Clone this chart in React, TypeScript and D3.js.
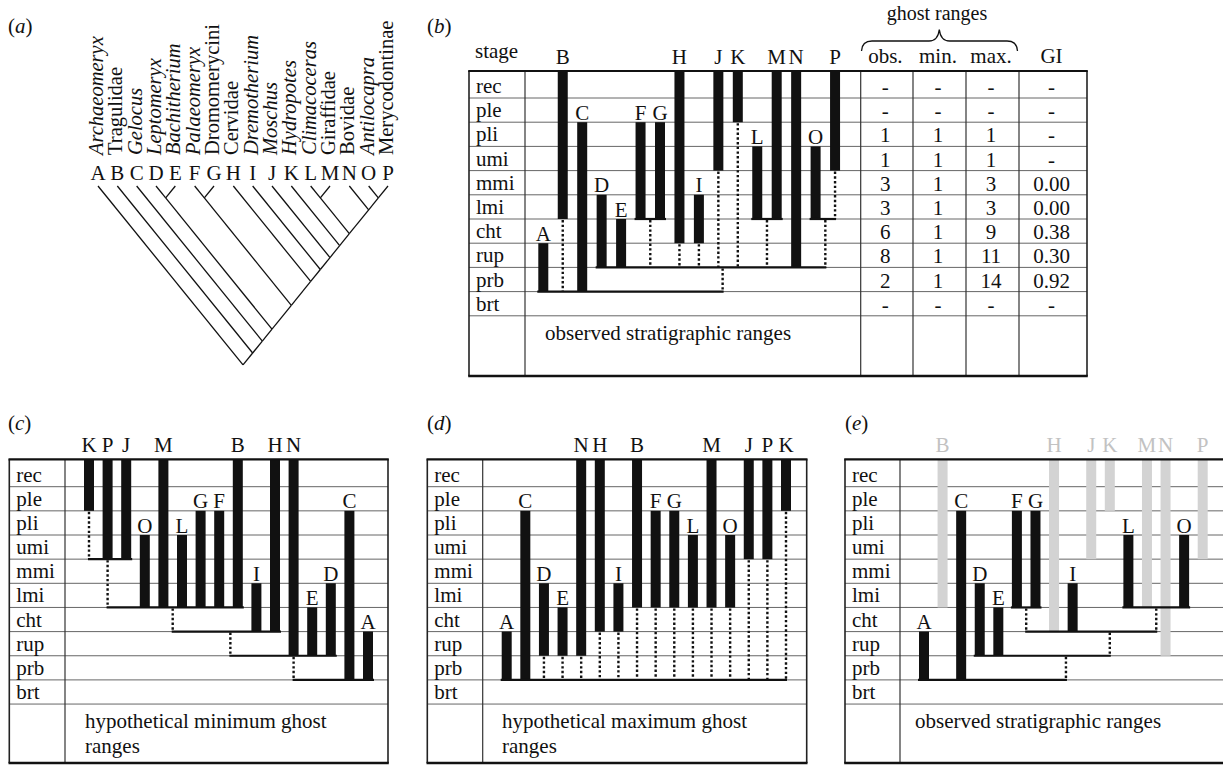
import React from "react";
import * as d3 from "d3";

// ---------- DATA ----------
const stages = ["rec", "ple", "pli", "umi", "mmi", "lmi", "cht", "rup", "prb", "brt"];
const taxa = ["A", "B", "C", "D", "E", "F", "G", "H", "I", "J", "K", "L", "M", "N", "O", "P"];
const taxonNames = [
  "Archaeomeryx", "Tragulidae", "Gelocus", "Leptomeryx", "Bachitherium", "Palaeomeryx",
  "Dromomerycini", "Cervidae", "Dremotherium", "Moschus", "Hydropotes", "Climacoceras",
  "Giraffidae", "Bovidae", "Antilocapra", "Merycodontinae",
];
const taxonItalic = [true, false, true, true, true, true, false, false, true, true, true, true, false, false, true, false];
// cladogram topology (A,(B,(C,((D,E),((F,G),(H,(I,(J,(K,((L,M),(N,(O,P))))))))))))
const cladogram: any = ["A", ["B", ["C", [["D", "E"], [["F", "G"], ["H", ["I", ["J", ["K", [["L", "M"], ["N", ["O", "P"]]]]]]]]]]]];

// observed stratigraphic ranges (first and last stage)
const rangeTop = ["rup", "rec", "pli", "lmi", "cht", "pli", "pli", "rec", "lmi", "rec", "rec", "umi", "rec", "rec", "umi", "rec"];
const rangeBase = ["prb", "lmi", "prb", "rup", "rup", "lmi", "lmi", "cht", "cht", "umi", "ple", "lmi", "lmi", "rup", "lmi", "umi"];

// column orders
const orderB = taxa;
const orderC = ["K", "P", "J", "O", "M", "L", "G", "F", "B", "I", "H", "N", "E", "D", "C", "A"];
const orderD = ["A", "C", "D", "E", "N", "H", "I", "B", "F", "G", "L", "M", "O", "J", "P", "K"];
const orderE = taxa;
const greyE = ["B", "H", "J", "K", "M", "N", "P"];

// ghost range connectors: horizontals at bottom of stage; dotted ghost ranges
const hB = [
  { at: "prb", from: 0, fe: -1, to: 9.22, te: 0 },
  { at: "rup", from: 3, fe: -1, to: 14.5, te: 0 },
  { at: "lmi", from: 5, fe: -1, to: 6, te: 1 },
  { at: "lmi", from: 11, fe: -1, to: 12, te: 1 },
  { at: "lmi", from: 14, fe: -1, to: 15, te: 0 },
];
const dB = [
  { col: 1, from: "lmi", to: "prb" },
  { col: 5.5, from: "lmi", to: "rup" },
  { col: 7, from: "cht", to: "rup" },
  { col: 8, from: "cht", to: "rup" },
  { col: 9, from: "umi", to: "rup" },
  { col: 10, from: "ple", to: "rup" },
  { col: 11.5, from: "lmi", to: "rup" },
  { col: 14.5, from: "lmi", to: "rup" },
  { col: 15, from: "umi", to: "lmi" },
  { col: 9.22, from: "rup", to: "prb" },
];
const hC = [
  { at: "umi", from: 0, fe: 0, to: 2, te: 1 },
  { at: "lmi", from: 1, fe: 0, to: 8, te: 1 },
  { at: "cht", from: 4.5, fe: 0, to: 10, te: 1 },
  { at: "rup", from: 7.6, fe: 0, to: 13, te: 1 },
  { at: "prb", from: 11, fe: 0, to: 15, te: 1 },
];
const dC = [
  { col: 0, from: "ple", to: "umi" },
  { col: 1, from: "umi", to: "lmi" },
  { col: 4.5, from: "lmi", to: "cht" },
  { col: 7.6, from: "cht", to: "rup" },
  { col: 11, from: "rup", to: "prb" },
];
const hD = [{ at: "prb", from: 0, fe: -1, to: 15, te: 0 }];
const dD = [
  { col: 2, from: "rup", to: "prb" }, { col: 3, from: "rup", to: "prb" }, { col: 4, from: "rup", to: "prb" },
  { col: 5, from: "cht", to: "prb" }, { col: 6, from: "cht", to: "prb" }, { col: 7, from: "lmi", to: "prb" },
  { col: 8, from: "lmi", to: "prb" }, { col: 9, from: "lmi", to: "prb" }, { col: 10, from: "lmi", to: "prb" },
  { col: 11, from: "lmi", to: "prb" }, { col: 12, from: "lmi", to: "prb" }, { col: 13, from: "umi", to: "prb" },
  { col: 14, from: "umi", to: "prb" }, { col: 15, from: "ple", to: "prb" },
];
const hE = [
  { at: "prb", from: 0, fe: -1, to: 7.64, te: 0 },
  { at: "rup", from: 3, fe: -1, to: 10, te: 0 },
  { at: "cht", from: 5.5, fe: 0, to: 12.5, te: 0 },
  { at: "lmi", from: 5, fe: -1, to: 6, te: 1 },
  { at: "lmi", from: 11, fe: -1, to: 14, te: 1 },
];
const dE = [
  { col: 5.5, from: "lmi", to: "cht" },
  { col: 12.5, from: "lmi", to: "cht" },
  { col: 10, from: "cht", to: "rup" },
  { col: 7.64, from: "rup", to: "prb" },
];

// ghost range table (panel b)
const tableHeaders = ["obs.", "min.", "max.", "GI"];
const obsGhost = ["-", "-", "1", "1", "3", "3", "6", "8", "2", "-"];
const minGhost = ["-", "-", "1", "1", "1", "1", "1", "1", "1", "-"];
const maxGhost = ["-", "-", "1", "1", "3", "3", "9", "11", "14", "-"];
const giValues = ["-", "-", "-", "-", "0.00", "0.00", "0.38", "0.30", "0.92", "-"];

// ---------- STYLE ----------
const FONT = "'Liberation Serif', 'Times New Roman', serif";
const FS = 21;
const BAR_W = 10;
const GREY_BAR = "#d3d3d3";
const GREY_TXT = "#c2c2c2";
const INK = "#111";

type PanelGeom = {
  left: number; div: number; right: number; top: number; firstLine: number; rowH: number; bottom: number;
  col0: number; step: number;
};

function StagePanel(props: {
  g: PanelGeom; order: string[]; grey?: string[]; hs: any[]; ds: any[]; caption: string[]; capX: number;
  extraCols?: number[];
}) {
  const { g, order, grey = [], hs, ds, caption, capX, extraCols = [] } = props;
  const x = d3.scaleLinear().domain([0, 15]).range([g.col0, g.col0 + 15 * g.step]);
  // boundary i: top of stage i (0..10)
  const yB = (i: number) => (i === 0 ? g.top : g.firstLine + (i - 1) * g.rowH);
  const si = (s: string) => stages.indexOf(s);
  const rowTop = (s: string) => yB(si(s));
  const rowBot = (s: string) => yB(si(s) + 1);
  const edge = (c: number, e: number) => x(c) + (e * BAR_W) / 2;

  const bars = order.map((t, i) => {
    const ti = taxa.indexOf(t);
    return { t, i, y0: rowTop(rangeTop[ti]), y1: rowBot(rangeBase[ti]), top: rangeTop[ti], grey: grey.includes(t) };
  });

  return (
    <g>
      {stages.map((s, i) =>
        i === 0 ? null : (
          <line key={"r" + s} x1={g.left} x2={g.right} y1={yB(i)} y2={yB(i)} stroke="#666" strokeWidth={1} />
        )
      )}
      <line x1={g.left} x2={g.right} y1={yB(10)} y2={yB(10)} stroke="#666" strokeWidth={1} />
      {bars.filter((b) => b.grey).map((b) => (
        <rect key={"gb" + b.t} x={x(b.i) - BAR_W / 2} y={b.y0} width={BAR_W} height={b.y1 - b.y0} fill={GREY_BAR} />
      ))}
      {ds.map((d, k) => (
        <line key={"d" + k} x1={x(d.col)} x2={x(d.col)} y1={rowBot(d.from) + 1} y2={rowBot(d.to)}
          stroke={INK} strokeWidth={2.4} strokeDasharray="2.4 2.3" />
      ))}
      {bars.filter((b) => !b.grey).map((b) => (
        <rect key={"bb" + b.t} x={x(b.i) - BAR_W / 2} y={b.y0} width={BAR_W} height={b.y1 - b.y0} fill={INK} />
      ))}
      {hs.map((h, k) => (
        <line key={"h" + k} x1={edge(h.from, h.fe) - 1} x2={edge(h.to, h.te) + 1} y1={rowBot(h.at)} y2={rowBot(h.at)}
          stroke={INK} strokeWidth={2.2} />
      ))}
      {bars.map((b) => (
        <text key={"l" + b.t} x={x(b.i)} y={b.top === "rec" ? g.top - 7 : rowTop(b.top) - 2.5}
          textAnchor="middle" fontSize={FS} fill={b.grey ? GREY_TXT : INK}>{b.t}</text>
      ))}
      {stages.map((s, i) => (
        <text key={"s" + s} x={g.left + 7} y={yB(i + 1) - 5} fontSize={FS} fill={INK}>{s}</text>
      ))}
      {caption.map((c, k) => (
        <text key={"c" + k} x={capX} y={yB(10) + 24 + k * 25} fontSize={FS} fill={INK}>{c}</text>
      ))}
      <line x1={g.div} x2={g.div} y1={g.top} y2={g.bottom} stroke="#333" strokeWidth={1.2} />
      {extraCols.map((c, k) => (
        <line key={"xc" + k} x1={c} x2={c} y1={g.top} y2={g.bottom} stroke="#333" strokeWidth={1.2} />
      ))}
      <line x1={g.left} x2={g.left} y1={g.top} y2={g.bottom} stroke="#222" strokeWidth={1.6} />
      <line x1={g.right} x2={g.right} y1={g.top} y2={g.bottom} stroke="#222" strokeWidth={1.6} />
      <line x1={g.left - 0.8} x2={g.right + 0.8} y1={g.top} y2={g.top} stroke={INK} strokeWidth={2.2} />
      <line x1={g.left - 0.8} x2={g.right + 0.8} y1={g.bottom} y2={g.bottom} stroke={INK} strokeWidth={2.4} />
    </g>
  );
}

function Cladogram() {
  const X = d3.scaleLinear().domain([0, 15]).range([98, 388]);
  const leafTop = 186;
  const slope = 1.234;
  const root = d3.hierarchy(cladogram, (d: any) => (Array.isArray(d) ? d : null));
  const pos = new Map<any, { x: number; y: number }>();
  root.each((n: any) => {
    const idx = n.leaves().map((l: any) => taxa.indexOf(l.data));
    const lo = X(d3.min(idx) as number), hi = X(d3.max(idx) as number);
    pos.set(n, { x: (lo + hi) / 2, y: leafTop + (slope * (hi - lo)) / 2 });
  });
  return (
    <g>
      {root.links().map((l: any, k: number) => {
        const s = pos.get(l.source)!, t = pos.get(l.target)!;
        return <line key={k} x1={s.x} y1={s.y} x2={t.x} y2={t.y} stroke={INK} strokeWidth={1.3} />;
      })}
      {taxa.map((t, i) => (
        <text key={"L" + t} x={X(i)} y={180} textAnchor="middle" fontSize={FS} fill={INK}>{t}</text>
      ))}
      {taxonNames.map((n, i) => (
        <text key={"N" + i} transform={`translate(${X(i) + 5},155) rotate(-90)`} fontSize={20.5}
          fontStyle={taxonItalic[i] ? "italic" : "normal"} fill={INK}>{n}</text>
      ))}
    </g>
  );
}

function PanelLabel({ x, y, l }: { x: number; y: number; l: string }) {
  return (
    <text x={x} y={y} fontSize={FS} fill={INK}>
      (<tspan fontStyle="italic">{l}</tspan>)
    </text>
  );
}

const geomB: PanelGeom = { left: 469, div: 525, right: 1087, top: 71, firstLine: 98, rowH: 24.2, bottom: 376, col0: 543.3, step: 19.45 };
const geomC: PanelGeom = { left: 9.3, div: 65, right: 388, top: 459.3, firstLine: 486.7, rowH: 24.15, bottom: 763, col0: 89, step: 18.6 };
const geomD: PanelGeom = { left: 427.3, div: 482.7, right: 806.7, top: 459.3, firstLine: 486.7, rowH: 24.15, bottom: 763, col0: 506.7, step: 18.62 };
const geomE: PanelGeom = { left: 845, div: 900, right: 1240, top: 459.3, firstLine: 486.7, rowH: 24.15, bottom: 763, col0: 924, step: 18.58 };

const tableCols = [860.7, 913, 966, 1019, 1087];

function GhostTable() {
  const g = geomB;
  const yB = (i: number) => (i === 0 ? g.top : g.firstLine + (i - 1) * g.rowH);
  const cols = [obsGhost, minGhost, maxGhost, giValues];
  const centers = tableCols.slice(0, 4).map((c, i) => (c + tableCols[i + 1]) / 2 - 1.5);
  return (
    <g>
      {tableHeaders.map((h, i) => (
        <text key={h} x={centers[i]} y={63} textAnchor="middle" fontSize={FS} fill={INK}>{h}</text>
      ))}
      <text x={937} y={19.5} textAnchor="middle" fontSize={20} fill={INK}>ghost ranges</text>
      <path d="M 861.5 51 Q 862 41 872 41 L 929 41 Q 938 41 939.3 29.5 Q 940.6 41 949.6 41 L 1007 41 Q 1017 41 1017.5 51"
        fill="none" stroke={INK} strokeWidth={1.3} />
      {cols.map((vals, ci) =>
        vals.map((v, ri) => (
          <text key={ci + "-" + ri} x={centers[ci]} y={yB(ri + 1) - 4} textAnchor="middle" fontSize={FS} fill={INK}>{v}</text>
        ))
      )}
    </g>
  );
}

export default function App() {
  return (
    <svg width={1223} height={765} style={{ position: "absolute", left: 0, top: 0, background: "#fff" }}
      fontFamily={FONT}>
      <rect x={0} y={0} width={1223} height={765} fill="#fff" />
      <PanelLabel x={8} y={33} l="a" />
      <Cladogram />
      <PanelLabel x={427} y={33} l="b" />
      <text x={475} y={58} fontSize={FS} fill={INK}>stage</text>
      <StagePanel g={geomB} order={orderB} hs={hB} ds={dB} caption={["observed stratigraphic ranges"]} capX={545}
        extraCols={tableCols.slice(0, 4)} />
      <GhostTable />
      <PanelLabel x={8} y={430} l="c" />
      <StagePanel g={geomC} order={orderC} hs={hC} ds={dC} caption={["hypothetical minimum ghost", "ranges"]} capX={85} />
      <PanelLabel x={427} y={430} l="d" />
      <StagePanel g={geomD} order={orderD} hs={hD} ds={dD} caption={["hypothetical maximum ghost", "ranges"]} capX={502} />
      <PanelLabel x={845} y={430} l="e" />
      <StagePanel g={geomE} order={orderE} grey={greyE} hs={hE} ds={dE} caption={["observed stratigraphic ranges"]} capX={915} />
    </svg>
  );
}
